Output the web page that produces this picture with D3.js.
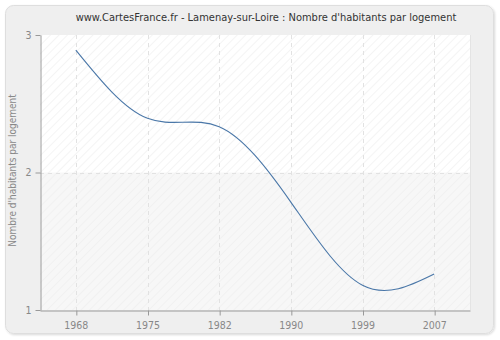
<!DOCTYPE html>
<html><head><meta charset="utf-8">
<script src="https://cdn.jsdelivr.net/npm/d3@7"></script>
<style>body{margin:0;background:#fff;}svg{display:block;}</style>
</head><body>
<svg id="c" width="500" height="340"></svg>
<script>
const title = "www.CartesFrance.fr - Lamenay-sur-Loire : Nombre d'habitants par logement";
const yLabel = "Nombre d'habitants par logement";
const years = ["1968","1975","1982","1990","1999","2007"];
const values = [2.89, 2.394, 2.333, 1.785, 1.18, 1.262];
const yTicks = [1, 2, 3];

const svg = d3.select("#c");
const font = "'DejaVu Sans Condensed', 'DejaVu Sans', Verdana, sans-serif";
const m = {l:40, r:470, t:35, b:310};

const defs = svg.append("defs");
const pat = defs.append("pattern").attr("id","hatch").attr("patternUnits","userSpaceOnUse")
  .attr("width",6).attr("height",6).attr("patternTransform","rotate(45)");
pat.append("line").attr("x1",0).attr("y1",0).attr("x2",0).attr("y2",6)
  .attr("stroke","#ececec").attr("stroke-width",1.2);
const sh = defs.append("filter").attr("id","sh").attr("x","-5%").attr("y","-5%").attr("width","110%").attr("height","110%");
sh.append("feDropShadow").attr("dx",1).attr("dy",1).attr("stdDeviation",1.2).attr("flood-color","#000").attr("flood-opacity",0.15);

svg.append("rect").attr("x",5.5).attr("y",5.5).attr("width",488).attr("height",328).attr("rx",8)
  .attr("fill","#efefef").attr("stroke","#dedede").attr("filter","url(#sh)");

const x = d3.scalePoint().domain(years).range([m.l, m.r]).padding(0.5);
const y = d3.scaleLinear().domain([1,3]).range([m.b, m.t]);

svg.append("rect").attr("x",m.l).attr("y",m.t).attr("width",m.r-m.l).attr("height",m.b-m.t).attr("fill","#ffffff");
svg.append("rect").attr("x",m.l).attr("y",y(2)).attr("width",m.r-m.l).attr("height",y(1)-y(2)).attr("fill","#f7f7f7");
svg.append("rect").attr("x",m.l).attr("y",m.t).attr("width",m.r-m.l).attr("height",m.b-m.t).attr("fill","url(#hatch)");
svg.append("line").attr("x1",m.r+0.5).attr("x2",m.r+0.5).attr("y1",m.t).attr("y2",m.b).attr("stroke","#e4e4e4");

// grid
svg.append("g").selectAll("line").data(years).join("line")
  .attr("x1",d=>Math.round(x(d))+0.5).attr("x2",d=>Math.round(x(d))+0.5).attr("y1",m.t).attr("y2",m.b)
  .attr("stroke","#e2e2e2").attr("stroke-dasharray","4,4");
svg.append("g").selectAll("line").data([2]).join("line")
  .attr("x1",m.l).attr("x2",m.r).attr("y1",d=>Math.round(y(d))+0.5).attr("y2",d=>Math.round(y(d))+0.5)
  .attr("stroke","#e2e2e2").attr("stroke-dasharray","4,4");

// axes
const ax = svg.append("g").attr("transform",`translate(0,${m.b+0.5})`)
  .call(d3.axisBottom(x).tickSize(5).tickPadding(6).tickSizeOuter(0));
const ay = svg.append("g").attr("transform",`translate(${m.l+0.5},0)`)
  .call(d3.axisLeft(y).tickValues(yTicks).tickFormat(d3.format("d")).tickSize(5).tickPadding(4).tickSizeOuter(0));
[ax, ay].forEach(g=>{
  g.select(".domain").attr("stroke","#999");
  g.selectAll(".tick line").attr("stroke","#999");
  g.selectAll("text").attr("fill","#888").attr("font-family",font).attr("font-size",10.5);
});
ax.selectAll(".tick line").attr("transform","translate(0.5,0)");

// line
svg.append("path").datum(values)
  .attr("d", d3.line().x((d,i)=>x(years[i])).y(d=>y(d)).curve(d3.curveNatural))
  .attr("fill","none").attr("stroke","#4a77a8").attr("stroke-width",1.1);

svg.append("text").attr("x",266).attr("y",21).attr("text-anchor","middle")
  .attr("font-family",font).attr("font-size",11).attr("fill","#333").text(title);
svg.append("text").attr("transform",`translate(16,${(m.t+m.b)/2-2}) rotate(-90)`).attr("text-anchor","middle")
  .attr("font-family",font).attr("font-size",10).attr("fill","#888").text(yLabel);
</script>
</body></html>
